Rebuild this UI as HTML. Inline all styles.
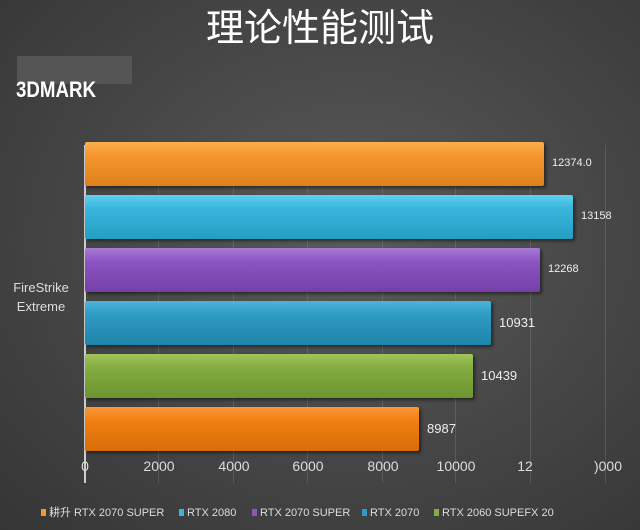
<!DOCTYPE html>
<html><head><meta charset="utf-8"><style>
body{margin:0;width:640px;height:530px;overflow:hidden;background:radial-gradient(ellipse at 55% 45%,#5a5a5a 0%,#474747 50%,#353535 100%);font-family:"Liberation Sans","Noto Sans CJK SC",sans-serif;position:relative}
.t{position:absolute;left:0;width:640px;top:2px;text-align:center;color:#fff;font-size:38px;font-family:"Noto Sans CJK SC",sans-serif;line-height:46px}
.g{position:absolute;top:145px;height:338px;width:1px;background:rgba(255,255,255,0.12)}
.b{position:absolute;left:85px;height:44px;border-radius:2px;box-shadow:2px 2px 3px rgba(0,0,0,.5)}
.v{position:absolute;color:#eee;font-size:13px}
.x{position:absolute;top:458px;color:#ddd;font-size:14px;width:60px;text-align:center}
.l{position:absolute;top:506px;color:#ddd;font-size:11px;line-height:14px;height:14px;white-space:nowrap}
.l i{display:inline-block;width:5px;height:7px;margin-right:3px}
</style></head><body>
<div class="t">理论性能测试</div>
<div style="position:absolute;left:17px;top:56px;width:115px;height:28px;background:#555"></div>
<div style="position:absolute;left:16px;top:77px;color:#fff;font-size:22px;font-weight:bold;transform:scaleX(.85);transform-origin:left">3DMARK</div>
<div class="g" style="left:158px"></div><div class="g" style="left:233px"></div><div class="g" style="left:307px"></div><div class="g" style="left:382px"></div><div class="g" style="left:455px"></div><div class="g" style="left:530px"></div><div class="g" style="left:605px"></div>
<div style="position:absolute;left:84px;top:145px;width:2px;height:338px;background:#ccc"></div>
<div class="b" style="top:142px;width:459px;background:linear-gradient(#fbb050,#f5962e 30%,#e0801a)"></div>
<div class="b" style="top:195px;width:488px;background:linear-gradient(#5fd0ef,#3ab6dc 30%,#259ec4)"></div>
<div class="b" style="top:248px;width:455px;background:linear-gradient(#a87ad8,#8c55c2 30%,#7440a8)"></div>
<div class="b" style="top:301px;width:406px;background:linear-gradient(#4db4d8,#2e9cc4 30%,#1f84aa)"></div>
<div class="b" style="top:354px;width:388px;background:linear-gradient(#a0c45a,#84ad42 30%,#6c9430)"></div>
<div class="b" style="top:407px;width:334px;background:linear-gradient(#fa9a3a,#f28012 30%,#d86c08)"></div>
<div class="v" style="left:552px;top:157px;font-size:11px">12374.0</div>
<div class="v" style="left:581px;top:210px;font-size:11px">13158</div>
<div class="v" style="left:548px;top:263px;font-size:11px">12268</div>
<div class="v" style="left:499px;top:315px">10931</div>
<div class="v" style="left:481px;top:368px">10439</div>
<div class="v" style="left:427px;top:421px">8987</div>
<div style="position:absolute;left:3px;top:278px;width:76px;text-align:center;color:#ddd;font-size:13px;line-height:19px">FireStrike<br>Extreme</div>
<div class="x" style="left:55px">0</div><div class="x" style="left:129px">2000</div><div class="x" style="left:204px">4000</div><div class="x" style="left:278px">6000</div><div class="x" style="left:353px">8000</div><div class="x" style="left:426px">10000</div><div class="x" style="left:495px">12</div><div class="x" style="left:578px">)000</div>
<div class="l" style="left:41px"><i style="background:#f5962e"></i>耕升 RTX 2070 SUPER</div>
<div class="l" style="left:179px"><i style="background:#3ab6dc"></i>RTX 2080</div>
<div class="l" style="left:252px"><i style="background:#8c55c2"></i>RTX 2070 SUPER</div>
<div class="l" style="left:362px"><i style="background:#2e9cc4"></i>RTX 2070</div>
<div class="l" style="left:434px"><i style="background:#84ad42"></i>RTX 2060 SUPEFX 20</div>
</body></html>
